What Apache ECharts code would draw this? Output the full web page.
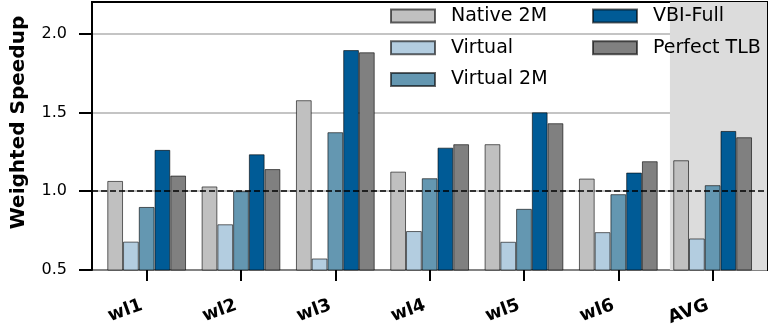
<!DOCTYPE html>
<html>
<head>
<meta charset="utf-8">
<script src="https://cdn.jsdelivr.net/npm/echarts@6/dist/echarts.min.js"></script>
<style>
  html, body { margin: 0; padding: 0; background: #fff; }
  #main { width: 772px; height: 327px; }
</style>
</head>
<body>
<div id="main"></div>
<script>
// data
var categories = ['wl1', 'wl2', 'wl3', 'wl4', 'wl5', 'wl6', 'AVG'];
var native2m   = [1.065, 1.03, 1.577, 1.124, 1.298, 1.08, 1.196];
var virtual    = [0.68, 0.79, 0.573, 0.747, 0.679, 0.74, 0.70];
var virtual2m  = [0.90, 1.0, 1.374, 1.082, 0.888, 0.981, 1.038];
var vbiFull    = [1.262, 1.234, 1.895, 1.276, 1.50, 1.118, 1.382];
var perfectTlb = [1.099, 1.14, 1.881, 1.298, 1.431, 1.19, 1.342];
var yTicks = [0.5, 1.0, 1.5, 2.0];

var chart = echarts.init(document.getElementById('main'));

function bar(name, data, color) {
  return {
    name: name,
    type: 'bar',
    xAxisIndex: 1,
    yAxisIndex: 1,
    data: data,
    barGap: '0%',
    barCategoryGap: '16.5%',
    itemStyle: { color: color, borderColor: 'rgba(0,0,0,0.6)', borderWidth: 1 },
    z: 3
  };
}

var legendText = {
  fontFamily: 'DejaVu Sans',
  fontSize: 19,
  color: '#000',
  lineHeight: 20,
  padding: [0, 0, 0, 11]
};

chart.setOption({
  animation: false,
  grid: [
    // frame: border, gridlines, y labels
    { left: 92, right: 5, top: 2, bottom: 57, outerBoundsMode: 'none', show: true, borderColor: '#000', borderWidth: 2, backgroundColor: 'transparent' },
    // bars
    { left: 99.5, right: 12.2, top: 2, bottom: 57, outerBoundsMode: 'none' }
  ],
  legend: [
    {
      data: ['Native 2M', 'Virtual', 'Virtual 2M'],
      orient: 'vertical', left: 390, top: 6, padding: 0,
      itemWidth: 44, itemHeight: 13, itemGap: 11.7, icon: 'rect',
      textStyle: legendText
    },
    {
      data: ['VBI-Full', 'Perfect TLB'],
      orient: 'vertical', left: 592, top: 6, padding: 0,
      itemWidth: 44, itemHeight: 13, itemGap: 11.7, icon: 'rect',
      textStyle: legendText
    }
  ],
  xAxis: [
    { type: 'value', gridIndex: 0, min: -0.58, max: 6.576, show: false },
    {
      type: 'category', gridIndex: 1, data: categories,
      axisLine: { show: false },
      axisTick: { show: true, alignWithLabel: true, length: 11, lineStyle: { color: '#000', width: 2 } },
      axisLabel: {
        rotate: 20, margin: 33, interval: 0, padding: [0, 5, 0, 0],
        fontFamily: 'DejaVu Sans', fontWeight: 'bold', fontSize: 18, color: '#000'
      }
    }
  ],
  yAxis: [
    {
      type: 'value', gridIndex: 0, min: 0.5, max: 2.2, interval: 0.5,
      axisLine: { show: true, onZero: false, lineStyle: { color: '#000', width: 2 } },
      axisTick: { show: true, length: 13, customValues: yTicks, lineStyle: { color: '#000', width: 2 } },
      axisLabel: {
        customValues: yTicks, margin: 25,
        fontFamily: 'DejaVu Sans', fontSize: 16, color: '#000',
        formatter: function (v) { return v.toFixed(1); }
      },
      splitLine: { show: true, lineStyle: { color: '#b0b0b0', width: 1.5 } }
    },
    { type: 'value', gridIndex: 1, min: 0.5, max: 2.2, show: false, splitLine: { show: false } }
  ],
  graphic: [{
    type: 'text',
    x: 19, y: 122.5,
    rotation: Math.PI / 2,
    style: {
      text: 'Weighted Speedup',
      fontFamily: 'DejaVu Sans', fontWeight: 'bold', fontSize: 20, fill: '#000',
      textAlign: 'center', textVerticalAlign: 'middle'
    }
  }],
  series: [
    {
      // AVG shading
      type: 'line', xAxisIndex: 0, yAxisIndex: 0, data: [], z: -1, silent: true,
      markArea: {
        silent: true,
        itemStyle: { color: '#dcdcdc' },
        data: [[{ xAxis: 5.547, yAxis: 0.5 }, { xAxis: 6.576, yAxis: 2.2 }]]
      }
    },
    bar('Native 2M', native2m, '#c0c0c0'),
    bar('Virtual', virtual, '#b3cde0'),
    bar('Virtual 2M', virtual2m, '#6497b1'),
    bar('VBI-Full', vbiFull, '#005b96'),
    bar('Perfect TLB', perfectTlb, '#808080'),
    {
      // baseline at 1.0
      type: 'line', xAxisIndex: 0, yAxisIndex: 0, data: [], z: 10, silent: true,
      markLine: {
        silent: true, symbol: 'none', label: { show: false },
        lineStyle: { color: '#000', width: 1.5, type: [6, 3] },
        data: [[{ coord: [-0.58, 1.0] }, { coord: [6.576, 1.0] }]]
      }
    }
  ]
});
</script>
</body>
</html>
